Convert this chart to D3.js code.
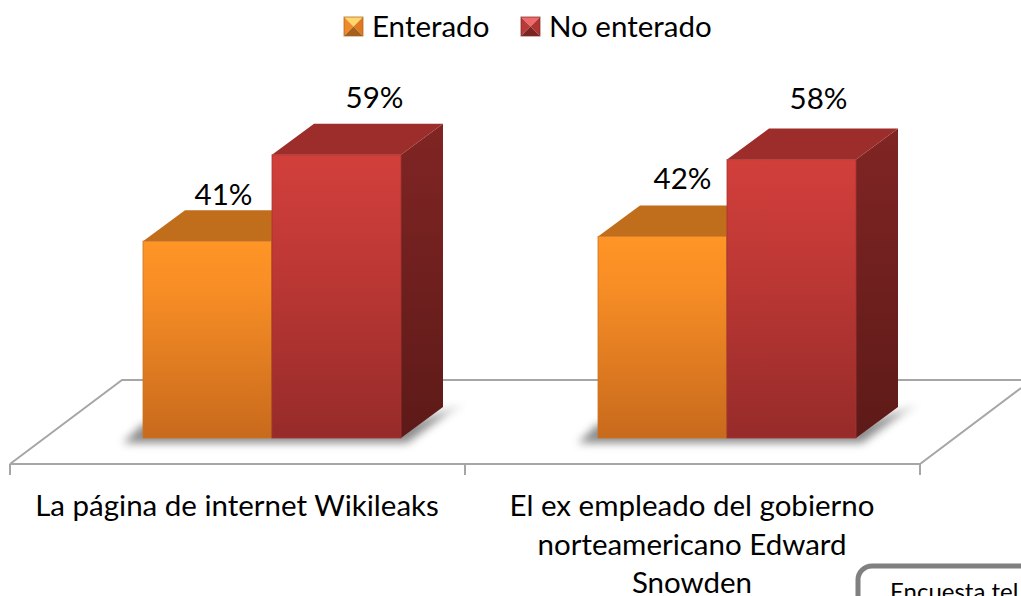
<!DOCTYPE html>
<html><head><meta charset="utf-8">
<script src="https://cdn.jsdelivr.net/npm/d3@7"></script>
<style>html,body{margin:0;padding:0;background:#fff;overflow:hidden}svg{display:block}text{font-family:Lato,"Open Sans",sans-serif;fill:#000}</style>
</head><body><svg id="c" width="1021" height="596"></svg>
<script>
const categories = ["La página de internet Wikileaks", "El ex empleado del gobierno norteamericano Edward Snowden"];
const categoryLines = [["La página de internet Wikileaks"], ["El ex empleado del gobierno", "norteamericano Edward", "Snowden"]];
const seriesNames = ["Enterado", "No enterado"];
const enterado = [41, 42];
const noEnterado = [59, 58];
const noteText = "Encuesta tel";

const W = 1021, H = 596;
const svg = d3.select("#c");
const x0 = d3.scaleBand().domain(categories).range([10, 920]);
const x1 = d3.scaleBand().domain(seriesNames).range([133, 391]);
const y = d3.scaleLinear().domain([0, 100]).range([438, -42]);
const dx = 42, dy = -31;
const fs = 29.5;

const defs = svg.append("defs");
function grad(id, stops) {
  const g = defs.append("linearGradient").attr("id", id).attr("x1", 0).attr("y1", 0).attr("x2", 0).attr("y2", 1);
  stops.forEach(s => g.append("stop").attr("offset", s[0]).attr("stop-color", s[1]));
}
grad("f0", [[0, "#ff9526"], [0.25, "#f78d25"], [1, "#c86a1d"]]);
grad("f1", [[0, "#d23f3b"], [0.4, "#bd3835"], [1, "#962b29"]]);
grad("s0", [[0, "#8a5316"], [1, "#6d4012"]]);
grad("s1", [[0, "#802524"], [1, "#5d1a18"]]);
defs.append("filter").attr("id", "blur").attr("x", "-20%").attr("y", "-100%").attr("width", "140%").attr("height", "300%")
  .append("feGaussianBlur").attr("stdDeviation", 4);
const topCol = ["#c06d1c", "#9c2d2b"];
const edgeCol = ["#c9741f", "#a8322f"];

// floor
const floorY = 464, backY = 380, floorCol = "#a6a6a6";
const floor = svg.append("g").attr("fill", "none").attr("stroke", floorCol).attr("stroke-width", 2);
floor.append("path").attr("d", `M10,${floorY}L122,${backY}L${W},${backY}`);
floor.append("path").attr("d", `M10,${floorY}L920,${floorY}L${W},${floorY - 76}`);
const edges = [x0(categories[0]), x0(categories[1]), x0(categories[1]) + x0.bandwidth()];
floor.selectAll("line.t").data(edges).join("line").attr("class", "t")
  .attr("x1", d => d).attr("x2", d => d).attr("y1", floorY).attr("y2", floorY + 11);

const rows = categories.map((c, i) => [enterado[i], noEnterado[i]].map((v, k) => ({ c, i, k, v, name: seriesNames[k] })));

// shadows
rows.forEach(r => {
  const x = x0(r[0].c) + x1(seriesNames[0]);
  const xr = x0(r[0].c) + x1(seriesNames[1]) + x1.bandwidth();
  const b = y(0);
  svg.append("path").attr("fill", "#777").attr("filter", "url(#blur)").attr("opacity", .85)
    .attr("d", `M${x - 20},${b + 5}L${xr + 6},${b + 5}L${xr + dx + 6},${b + dy + 5}L${xr + dx + 20},${b + dy - 2}L${xr + 8},${b - 14}L${x},${b - 14}Z`);
});

// bars
const g = svg.append("g");
rows.forEach(r => {
  r.forEach(d => {
    const x = x0(d.c) + x1(d.name), w = x1.bandwidth(), t = y(d.v), b = y(0);
    g.append("path").attr("fill", `url(#s${d.k})`)
      .attr("d", `M${x + w},${t}L${x + w + dx},${t + dy}L${x + w + dx},${b + dy}L${x + w},${b}Z`);
    g.append("path").attr("fill", topCol[d.k])
      .attr("d", `M${x},${t}L${x + dx},${t + dy}L${x + w + dx},${t + dy}L${x + w},${t}Z`);
  });
});
rows.forEach(r => r.forEach(d => {
  const x = x0(d.c) + x1(d.name), w = x1.bandwidth(), t = y(d.v), b = y(0);
  g.append("rect").attr("x", x).attr("y", t).attr("width", w).attr("height", b - t)
    .attr("fill", `url(#f${d.k})`).attr("stroke", edgeCol[d.k]).attr("stroke-opacity", .8).attr("stroke-width", 1);
  if (d.k === 0) g.append("line").attr("x1", x + w).attr("x2", x + w).attr("y1", t).attr("y2", b)
    .attr("stroke", "#7a4a20").attr("stroke-opacity", .55).attr("stroke-width", 1);
}));

// value labels
const labelNudge = [[[16, -36], [38, -16]], [[20, -47], [27, -20]]];
rows.forEach((r, i) => r.forEach((d, k) => {
  const x = x0(d.c) + x1(d.name) + x1.bandwidth() / 2;
  const baseY = k === 0 ? y(d.v) : y(d.v) + dy;
  svg.append("text").attr("x", x + labelNudge[i][k][0]).attr("y", baseY + labelNudge[i][k][1])
    .attr("text-anchor", "middle").style("font-size", fs + "px").text(d.v + "%");
}));

// category labels
categoryLines.forEach((lines, i) => {
  const cx = x0(categories[i]) + x0.bandwidth() / 2 - 0.5;
  lines.forEach((l, j) => svg.append("text").attr("x", cx).attr("y", 516 + j * 38.5)
    .attr("text-anchor", "middle").style("font-size", fs + "px").text(l));
});

// legend
const legendX = [344, 521], legendTextX = [372, 549], mY = 17, mS = 19;
const legendCols = [
  { l: "#f08a2a", t: "#ffd76a", r: "#e07a1e", b: "#a5601c" },
  { l: "#b93a38", t: "#f0696a", r: "#b03432", b: "#7a2524" }
];
seriesNames.forEach((n, i) => {
  const x = legendX[i], c = legendCols[i], m = mS / 2;
  const tri = (pts, f) => svg.append("polygon").attr("points", pts.map(p => p.join(",")).join(" ")).attr("fill", f);
  const cx = x + m, cy = mY + m;
  tri([[x, mY], [x + mS, mY], [cx, cy]], c.t);
  tri([[x, mY], [cx, cy], [x, mY + mS]], c.l);
  tri([[x + mS, mY], [x + mS, mY + mS], [cx, cy]], c.r);
  tri([[x, mY + mS], [x + mS, mY + mS], [cx, cy]], c.b);
  svg.append("rect").attr("x", x).attr("y", mY).attr("width", mS).attr("height", mS).attr("fill", "none").attr("stroke", c.b).attr("stroke-opacity", .7);
  svg.append("text").attr("x", legendTextX[i]).attr("y", 36.5).style("font-size", fs + "px").text(n);
});

// note box, cut by the page edge as in the reference
svg.append("rect").attr("x", 858).attr("y", 566).attr("width", 220).attr("height", 80).attr("rx", 14)
  .attr("fill", "#fff").attr("stroke", "#808080").attr("stroke-width", 5);
svg.append("text").attr("x", 890).attr("y", 600).style("font-size", "24px").text(noteText);
</script></body></html>
